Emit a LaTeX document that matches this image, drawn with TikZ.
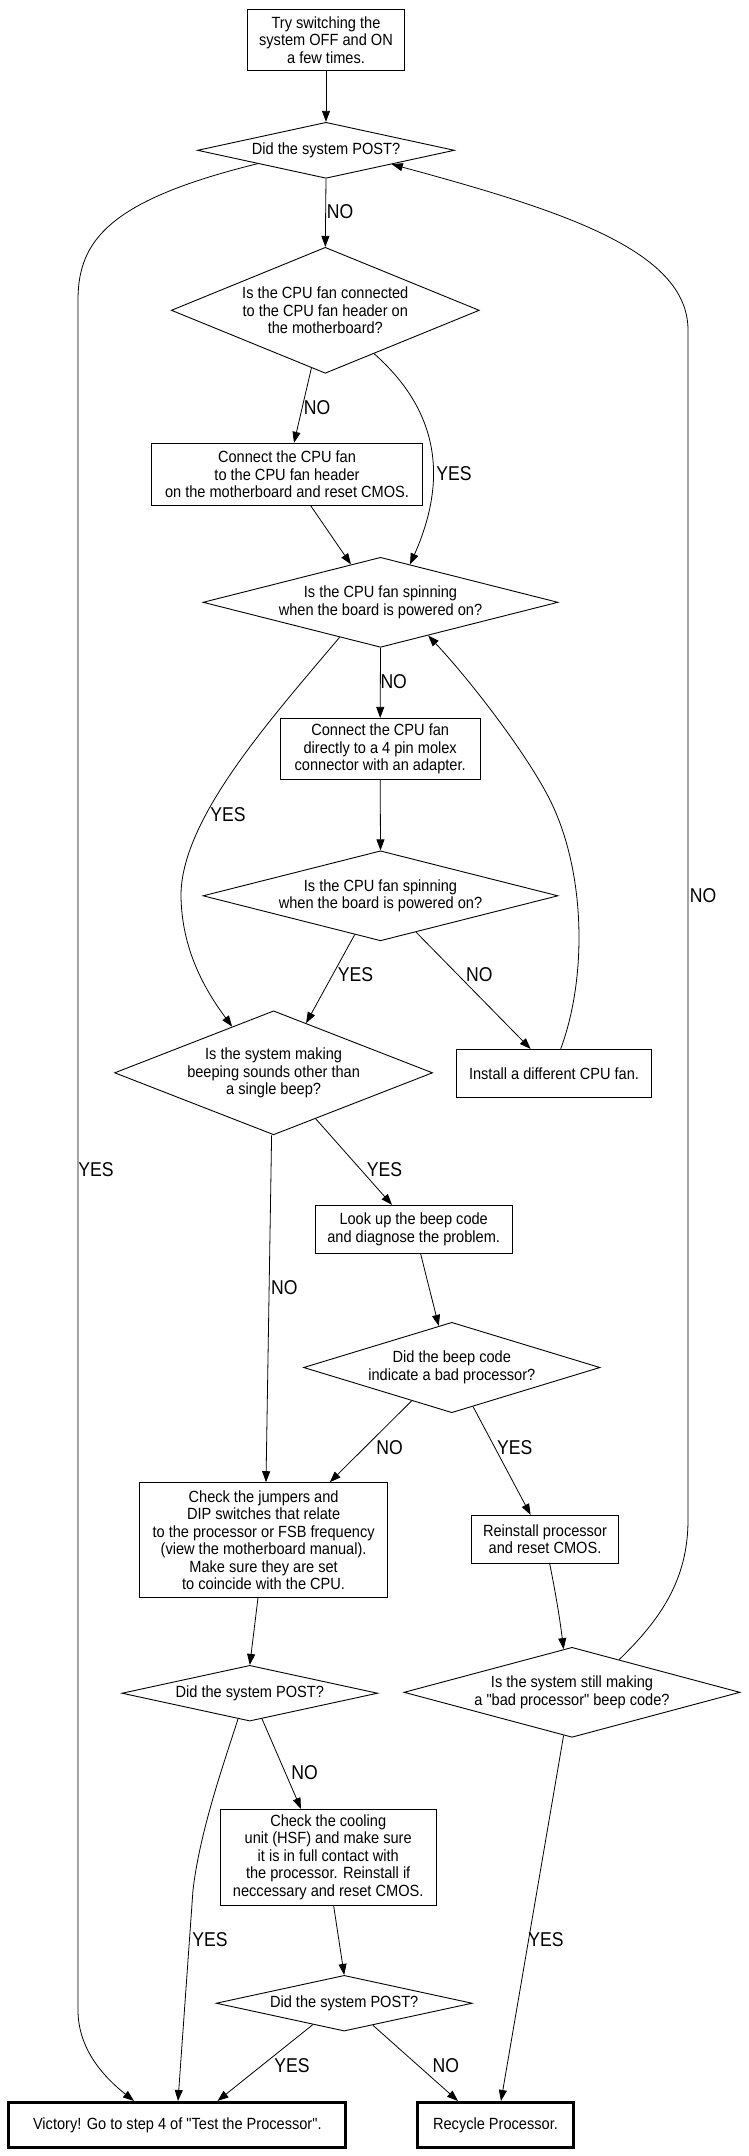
\documentclass[tikz,border=0pt]{standalone}
\usepackage{fontspec}
\usetikzlibrary{shapes.geometric,arrows.meta,calc}
\newfontfamily\myNF[FakeStretch=0.9]{Liberation Sans}
\newfontfamily\myLF[FakeStretch=0.88]{Liberation Sans}
\newcommand\myNodeFont{\myNF\fontsize{16.2}{17.5}\selectfont}
\newcommand\myLblFont{\myLF\fontsize{20}{22}\selectfont}
\tikzset{
  box/.style={draw, rectangle, inner sep=0pt, align=center, line width=0.9pt, font=\myNodeFont},
  dia/.style={draw, diamond, inner sep=-5pt, align=center, line width=0.9pt, font=\myNodeFont},
  term/.style={box, line width=3pt},
  edge/.style={-{Triangle[length=11pt,width=8pt]}, line width=0.8pt},
  lbl/.style={font=\myLblFont, inner sep=0pt}
}
\begin{document}
\begin{tikzpicture}[x=1pt,y=-1pt]
\useasboundingbox (0,0) rectangle (748,2156);
\fill[white] (0,0) rectangle (748,2156);

% nodes
\node[box, minimum width=157pt, minimum height=61pt] (try) at (326,39.8) {Try switching the\\system OFF and ON\\a few times.};
\node[dia, aspect=4.59, minimum width=257pt, minimum height=56pt] (post1) at (326,150.3) {Did the system POST?};
\node[dia, aspect=2.45, minimum width=308pt, minimum height=126pt] (conn) at (325.3,310.3) {Is the CPU fan connected\\to the CPU fan header on\\the motherboard?};
\node[box, minimum width=270.5pt, minimum height=62pt] (connbox) at (287,474.3) {Connect the CPU fan\\to the CPU fan header\\on the motherboard and reset CMOS.};
\node[dia, aspect=3.94, minimum width=355pt, minimum height=90pt] (spin1) at (380.5,602.3) {Is the CPU fan spinning\\when the board is powered on?};
\node[box, minimum width=200.4pt, minimum height=61pt] (direct) at (380.2,748.8) {Connect the CPU fan\\directly to a 4 pin molex\\connector with an adapter.};
\node[dia, aspect=3.94, minimum width=355pt, minimum height=90pt] (spin2) at (380.5,895.8) {Is the CPU fan spinning\\when the board is powered on?};
\node[dia, aspect=2.56, minimum width=318pt, minimum height=124pt] (beep) at (273.6,1072.8) {Is the system making\\beeping sounds other than\\a single beep?};
\node[box, minimum width=195pt, minimum height=47.7pt] (install) at (554,1073.2) {Install a different CPU fan.};
\node[box, minimum width=197.4pt, minimum height=48pt] (lookup) at (413.7,1229.3) {Look up the beep code\\and diagnose the problem.};
\node[dia, aspect=3.28, minimum width=296.4pt, minimum height=90.4pt] (bcode) at (451.8,1367.5) {Did the beep code\\indicate a bad processor?};
\node[box, minimum width=248pt, minimum height=114.7pt] (checkj) at (263.6,1540) {Check the jumpers and\\DIP switches that relate\\to the processor or FSB frequency\\(view the motherboard manual).\\Make sure they are set\\to coincide with the CPU.};
\node[box, minimum width=147.2pt, minimum height=48pt] (reinst) at (545,1539.3) {Reinstall processor\\and reset CMOS.};
\node[dia, aspect=4.59, minimum width=255.7pt, minimum height=55.7pt] (post2) at (249.8,1693.2) {Did the system POST?};
\node[dia, aspect=3.73, minimum width=336pt, minimum height=90pt] (still) at (572,1692.3) {Is the system still making\\a "bad processor" beep code?};
\node[box, minimum width=216.4pt, minimum height=95.7pt] (cool) at (328.2,1857.2) {Check the cooling\\unit (HSF) and make sure\\it is in full contact with\\the processor. Reinstall if\\neccessary and reset CMOS.};
\node[dia, aspect=4.59, minimum width=256pt, minimum height=55.7pt] (post3) at (344.2,2003.2) {Did the system POST?};
\node[term, minimum width=337pt, minimum height=45.5pt] (victory) at (177.3,2125.2) {Victory! Go to step 4 of "Test the Processor".};
\node[term, minimum width=156pt, minimum height=45.5pt] (recycle) at (495.5,2125.2) {Recycle Processor.};

% edges
\draw[edge] (try.south) -- (post1.north);
\draw[edge] (post1.south) -- (conn.north);
\draw[edge] ($(post1.south)!0.53!(post1.west)$) .. controls (110,200) and (78,240) .. (78,300)
  -- (78,2010) .. controls (78,2050) and (105,2078) .. ([xshift=-43.3pt]victory.north);
\draw[edge] ($(still.north)!0.28!(still.east)$) .. controls (660,1620) and (688,1580) .. (688,1520)
  -- (688,330) .. controls (688,250) and (560,210) .. ($(post1.south)!0.51!(post1.east)$);
\draw[edge] ($(conn.south)!0.09!(conn.west)$) -- ([xshift=7pt]connbox.north);
\draw[edge] ($(conn.south)!0.316!(conn.east)$) .. controls (432,405) and (452,470) .. ($(spin1.north)!0.166!(spin1.east)$);
\draw[edge] ([xshift=23.7pt]connbox.south) -- ($(spin1.north)!0.166!(spin1.west)$);
\draw[edge] (spin1.south) -- (direct.north);
\draw[edge] ($(spin1.south)!0.23!(spin1.west)$) .. controls (270,720) and (180,820) .. (181,897)
  .. controls (182,950) and (205,990) .. ($(beep.north)!0.26!(beep.west)$);
\draw[edge] ([xshift=6.7pt]install.north) .. controls (588,975) and (585,870) .. (550,800)
  .. controls (527,754) and (470,680) .. ($(spin1.south)!0.268!(spin1.east)$);
\draw[edge] (direct.south) -- (spin2.north);
\draw[edge] ($(spin2.south)!0.145!(spin2.west)$) -- ($(beep.north)!0.204!(beep.east)$);
\draw[edge] ($(spin2.south)!0.2!(spin2.east)$) -- ([xshift=-23.4pt]install.north);
\draw[edge] ([xshift=-2pt]beep.south) -- ([xshift=2.4pt]checkj.north);
\draw[edge] ($(beep.south)!0.264!(beep.east)$) -- ([xshift=-21.7pt]lookup.north);
\draw[edge] ([xshift=6.9pt]lookup.south) -- ($(bcode.north)!0.088!(bcode.west)$);
\draw[edge] ($(bcode.south)!0.27!(bcode.west)$) -- ([xshift=66.2pt]checkj.north);
\draw[edge] ($(bcode.south)!0.143!(bcode.east)$) -- ([xshift=-14.4pt]reinst.north);
\draw[edge] ([xshift=-5.6pt]checkj.south) -- (post2.north);
\draw[edge] ([xshift=4.7pt]reinst.south) .. controls (556,1595) and (560,1620) .. ($(still.north)!0.05!(still.west)$);
\draw[edge] ($(post2.south)!0.095!(post2.east)$) -- ([xshift=-27.2pt]cool.north);
\draw[edge] ($(post2.south)!0.092!(post2.west)$) .. controls (225,1760) and (200,1830) .. (193,1890)
  -- ([xshift=0.7pt]victory.north);
\draw[edge] ([xshift=5.4pt]cool.south) -- (post3.north);
\draw[edge] ($(post3.south)!0.244!(post3.west)$) -- ([xshift=40.2pt]victory.north);
\draw[edge] ($(post3.south)!0.223!(post3.east)$) -- ([xshift=-37.5pt]recycle.north);
\draw[edge] ($(still.south)!0.05!(still.west)$) -- ([xshift=5.5pt]recycle.north);

% edge labels
\node[lbl] (l1) at (340,212) {NO};
\node[lbl] (l2) at (317,408) {NO};
\node[lbl] (l3) at (454,473.3) {YES};
\node[lbl] (l4) at (393.7,681.7) {NO};
\node[lbl] (l5) at (228,815) {YES};
\node[lbl] (l6) at (703,895.7) {NO};
\node[lbl] (l7) at (355.6,975) {YES};
\node[lbl] (l8) at (479.4,975) {NO};
\node[lbl] (l9) at (96,1170) {YES};
\node[lbl] (l10) at (384.5,1170) {YES};
\node[lbl] (l11) at (284.4,1287.3) {NO};
\node[lbl] (l12) at (389.6,1447.3) {NO};
\node[lbl] (l13) at (514.7,1447.3) {YES};
\node[lbl] (l14) at (304.5,1772.5) {NO};
\node[lbl] (l15) at (210,1940) {YES};
\node[lbl] (l16) at (546,1940) {YES};
\node[lbl] (l17) at (292,2065.7) {YES};
\node[lbl] (l18) at (445.8,2065.7) {NO};
\end{tikzpicture}
\end{document}
